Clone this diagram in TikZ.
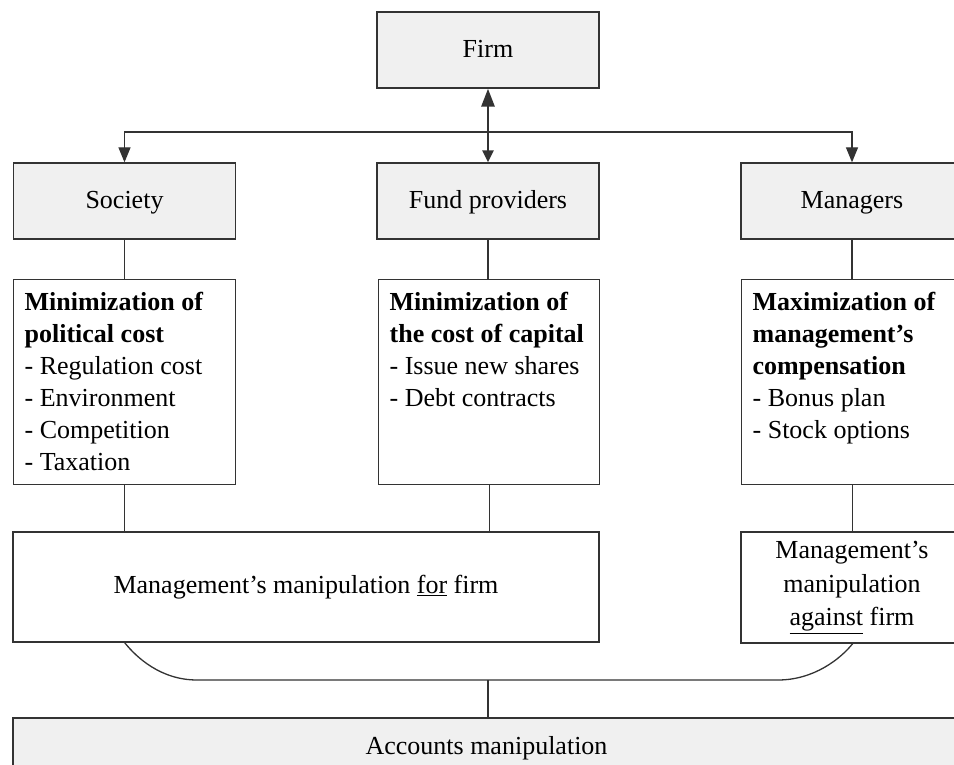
\documentclass[tikz,border=0pt]{standalone}
\usepackage{fontspec}
\setmainfont{Liberation Serif}
\usetikzlibrary{arrows.meta}

\begin{document}
\begin{tikzpicture}[x=1pt,y=-1pt,font=\fontsize{26}{32}\selectfont,
  party/.style={draw=black!80, line width=1.3pt, fill=black!6, minimum width=222pt, minimum height=76pt, text height=21pt, text depth=5pt},
  goal/.style={draw=black!80, line width=1.3pt, fill=white, inner xsep=11pt, inner ysep=8pt, anchor=north west},
  result/.style={draw=black!80, line width=1.3pt, fill=white, align=center},
  link/.style={draw=black!80, line width=1.3pt},
  tip/.style={-{Triangle[length=15pt,width=12pt]}}]
\useasboundingbox (0,0) rectangle (954,765);

% parties
\node[party] (firm) at (488,50) {Firm};
\node[party] (society) at (124.5,201) {Society};
\node[party] (funds) at (488,201) {Fund providers};
\node[party] (managers) at (852,201) {Managers};

% goals
\node[goal] (socgoal) at (13,279) {\parbox[c][189pt][t]{200pt}{\strut\textbf{Minimization of}\\\textbf{political cost}\\- Regulation cost\\- Environment\\- Competition\\- Taxation}};
\node[goal] (fundgoal) at (378,279) {\parbox[c][189pt][t]{199pt}{\strut\textbf{Minimization of}\\\textbf{the cost of capital}\\- Issue new shares\\- Debt contracts}};
\node[goal] (managoal) at (741,279) {\parbox[c][189pt][t]{200pt}{\strut\textbf{Maximization of}\\\textbf{management's}\\\textbf{compensation}\\- Bonus plan\\- Stock options}};

% manipulation
\node[result, minimum width=586pt, minimum height=110pt] (forfirm) at (306,587) {Management's manipulation \underline{for} firm};
\node[result, minimum width=222pt, minimum height=111pt, font=\fontsize{26}{33.5}\selectfont] (against) at (852,587.5) {Management's\\manipulation\\\underline{against} firm};
\node[party, minimum width=947pt, minimum height=56pt] (accounts) at (486.5,746) {Accounts manipulation};

% connectors
\coordinate (split) at (488,132);
\coordinate (join) at (488,680);
\draw[link, line width=2.8pt, {Triangle[length=18pt,width=13pt]}-{Triangle[length=12pt,width=11pt]}] (firm) -- (funds);
\draw[link, tip] (split) -| (society);
\draw[link, tip] (split) -| (managers);
\draw[link] (society) -- (society |- socgoal.north);
\draw[link] (funds) -- (funds |- fundgoal.north);
\draw[link] (managers) -- (managers |- managoal.north);
\draw[link] (socgoal) -- (socgoal |- forfirm.north);
\draw[link] (fundgoal) -- (fundgoal |- forfirm.north);
\draw[link] (managoal) -- (managoal |- against.north);
\draw[link] (socgoal |- forfirm.south) .. controls +(12,15) and +(-36,0) .. (197,680) -- (778,680) .. controls +(36,0) and +(-12,15) .. (managoal |- against.south);
\draw[link] (join) -- (join |- accounts.north);
\end{tikzpicture}
\end{document}
